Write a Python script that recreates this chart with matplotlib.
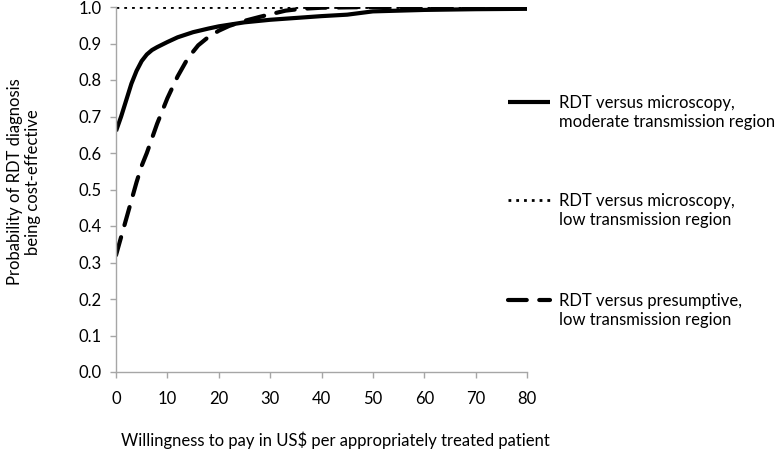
import matplotlib
matplotlib.use("Agg")
import matplotlib.pyplot as plt
from matplotlib.lines import Line2D

plt.rcParams['font.family'] = ['Lato', 'DejaVu Sans']

# Data
wtp_moderate = [0, 1, 2, 3, 4, 5, 6, 7, 8, 10, 12, 15, 18, 20, 25, 30, 35, 40, 45, 50, 55, 60, 70, 80]
prob_moderate = [0.66, 0.70, 0.745, 0.79, 0.825, 0.852, 0.87, 0.882, 0.890, 0.904, 0.917, 0.931,
                 0.941, 0.947, 0.958, 0.965, 0.970, 0.975, 0.979, 0.988, 0.990, 0.992, 0.994, 0.995]

wtp_low_micro = [0, 80]
prob_low_micro = [1.0, 1.0]

wtp_low_pres = [0, 1, 2, 3, 4, 5, 6, 7, 8, 10, 12, 14, 16, 18, 20, 22, 25, 28, 30, 33, 36, 40, 50, 60, 70, 80]
prob_low_pres = [0.32, 0.37, 0.42, 0.47, 0.52, 0.565, 0.60, 0.64, 0.68, 0.75, 0.81, 0.86, 0.895,
                 0.918, 0.935, 0.948, 0.962, 0.973, 0.98, 0.99, 0.995, 0.998, 1.0, 1.0, 1.0, 1.0]

labels = ["RDT versus microscopy,\nmoderate transmission region",
          "RDT versus microscopy,\nlow transmission region",
          "RDT versus presumptive,\nlow transmission region"]
x_ticks = [0, 10, 20, 30, 40, 50, 60, 70, 80]
y_ticks = [0.0, 0.1, 0.2, 0.3, 0.4, 0.5, 0.6, 0.7, 0.8, 0.9, 1.0]

W, H = 778, 451
fig = plt.figure(figsize=(W / 100, H / 100), dpi=100)
ax = fig.add_axes([116 / W, 1 - 372 / H, (527 - 116) / W, (372 - 7) / H])

styles = [dict(color='black', lw=3, solid_capstyle='butt'),
          dict(color='black', lw=2.0, dashes=(1, 1.8)),
          dict(color='black', lw=3, dashes=(4.5, 3), dash_capstyle='round')]

ax.plot(wtp_moderate, prob_moderate, **styles[0])
ax.plot(wtp_low_micro, prob_low_micro, **styles[1])
ax.plot(wtp_low_pres, prob_low_pres, **styles[2])

ax.set_xlim(0, 80)
ax.set_ylim(0, 1.0)
ax.set_xticks(x_ticks)
ax.set_xticklabels([str(v) for v in x_ticks])
ax.set_yticks(y_ticks)
ax.set_yticklabels([f"{v:.1f}" for v in y_ticks])
for s in ['top', 'right']:
    ax.spines[s].set_visible(False)
for s in ['left', 'bottom']:
    ax.spines[s].set_color('#a6a6a6')
    ax.spines[s].set_linewidth(1.0)
ax.tick_params(axis='both', colors='#a6a6a6', labelcolor='black', labelsize=12, length=4.5, width=1.0,
               direction='out')
ax.tick_params(axis='y', pad=6)
ax.tick_params(axis='x', pad=9)

fig.text(335 / W, 1 - 440 / H, "Willingness to pay in US$ per appropriately treated patient",
         ha='center', va='center', fontsize=12)
fig.text(24 / W, 1 - 182 / H, "Probability of RDT diagnosis\nbeing cost-effective",
         ha='center', va='center', rotation=90, fontsize=12, linespacing=1.2)

# Legend
leg_y = [102, 200, 300]
for y, st, lab in zip(leg_y, styles, labels):
    fy = 1 - y / H
    fig.add_artist(Line2D([508 / W, 550 / W], [fy, fy], transform=fig.transFigure, **st))
    fig.text(559 / W, 1 - (y + 10.5) / H, lab, ha='left', va='center', fontsize=12, linespacing=1.3)

fig.savefig("out.png", dpi=100)
